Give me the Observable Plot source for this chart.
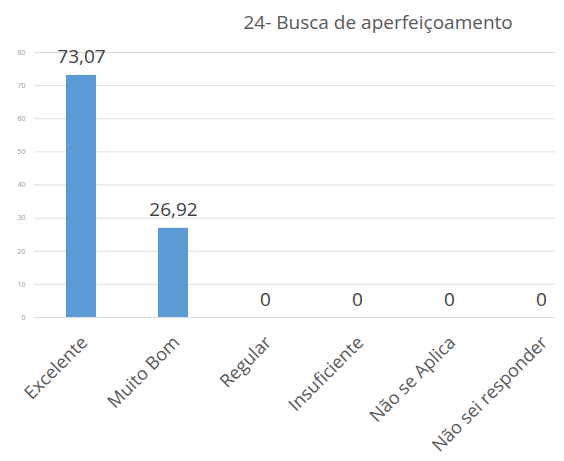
<!DOCTYPE html>
<html>
<head>
<meta charset="utf-8">
<script src="https://cdn.jsdelivr.net/npm/d3@7"></script>
<script src="https://cdn.jsdelivr.net/npm/@observablehq/plot@0.6"></script>
<style>
  html, body { margin: 0; padding: 0; background: #fff; }
  #chart svg { display: block; }
</style>
</head>
<body>
<div id="chart"></div>
<script>
const title = "24- Busca de aperfeiçoamento";
const categories = ["Excelente", "Muito Bom", "Regular", "Insuficiente", "Não se Aplica", "Não sei responder"];
const values = [73.07, 26.92, 0, 0, 0, 0];
const valueLabels = ["73,07", "26,92", "0", "0", "0", "0"];
const yTicks = [0, 10, 20, 30, 40, 50, 60, 70, 80];

const data = categories.map((c, i) => ({category: c, value: values[i], label: valueLabels[i]}));
const font = "'Open Sans', 'Noto Sans', sans-serif";

const chart = Plot.plot({
  width: 564,
  height: 461,
  marginTop: 52,
  marginBottom: 144,
  marginLeft: 34,
  marginRight: 9,
  style: {fontFamily: font, background: "#fff"},
  x: {domain: categories, range: [35, 587], paddingInner: 0.674, paddingOuter: 0.337, axis: null},
  y: {domain: [0, 80], ticks: yTicks, grid: false, axis: null},
  marks: [
    Plot.ruleY(yTicks, {stroke: "#dedede", strokeWidth: 1}),
    Plot.text(yTicks, {y: d => d, frameAnchor: "left", dx: -9, textAnchor: "end", fontSize: 7, fill: "#9a9a9a"}),
    Plot.barY(data, {x: "category", y: "value", fill: "#5B9BD5"}),
    Plot.text(data, {x: "category", y: "value", text: "label", lineAnchor: "bottom", dy: -12, fontSize: 19, fill: "#404040"}),
    Plot.text(data, {x: "category", text: "category", frameAnchor: "bottom", rotate: -45, textAnchor: "end", lineAnchor: "middle", dx: 3, dy: 22, fontSize: 18, fill: "#595959"}),
    Plot.text([title], {frameAnchor: "top-left", dx: 209, dy: -30, textAnchor: "start", lineAnchor: "middle", fontSize: 19, fill: "#595959"})
  ]
});
document.getElementById("chart").append(chart);
</script>
</body>
</html>
